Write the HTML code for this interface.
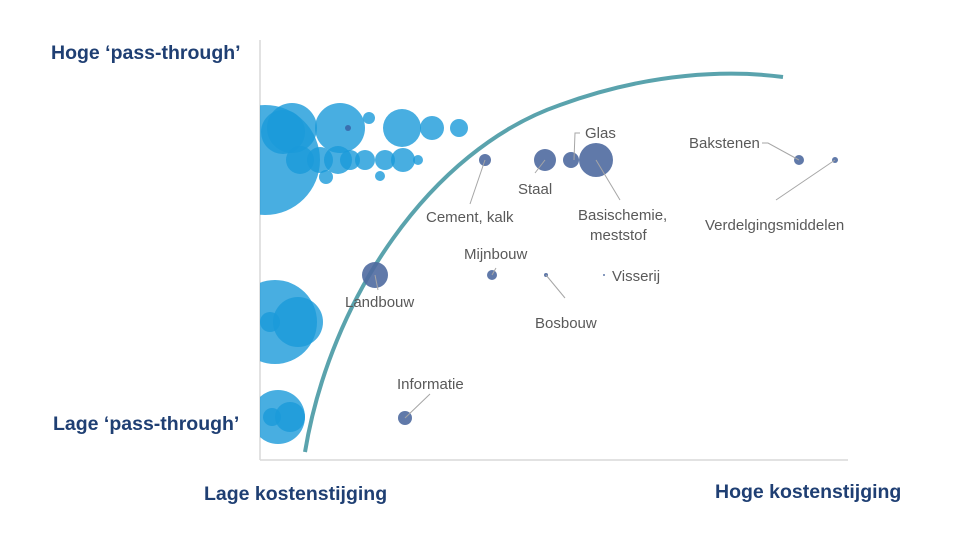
<!DOCTYPE html>
<html><head><meta charset="utf-8"><style>
html,body{margin:0;padding:0;background:#fff;}
svg{display:block;}
.l{font-family:"Liberation Sans",sans-serif;font-size:15px;fill:#595959;}
.a{font-family:"Liberation Sans",sans-serif;font-size:19.5px;font-weight:bold;fill:#1f3f73;}
</style></head><body>
<svg width="970" height="537" viewBox="0 0 970 537" xmlns="http://www.w3.org/2000/svg">
<defs><clipPath id="c"><rect x="260" y="0" width="700" height="537"/></clipPath></defs>
<line x1="260" y1="40" x2="260" y2="460" stroke="#d9d9d9" stroke-width="1.5"/>
<line x1="260" y1="460" x2="848" y2="460" stroke="#d9d9d9" stroke-width="1.5"/>
<g clip-path="url(#c)" fill="#1a9ad9" fill-opacity="0.8">
<circle cx="265" cy="160" r="55"/>
<circle cx="292" cy="128" r="25"/>
<circle cx="283" cy="132" r="22"/>
<circle cx="340" cy="128" r="25"/>
<circle cx="369" cy="118" r="6"/>
<circle cx="402" cy="128" r="19"/>
<circle cx="432" cy="128" r="12"/>
<circle cx="459" cy="128" r="9"/>
<circle cx="300" cy="160" r="14"/>
<circle cx="320" cy="160" r="13"/>
<circle cx="338" cy="160" r="14"/>
<circle cx="350" cy="160" r="10"/>
<circle cx="365" cy="160" r="10"/>
<circle cx="385" cy="160" r="10"/>
<circle cx="403" cy="160" r="12"/>
<circle cx="418" cy="160" r="5"/>
<circle cx="380" cy="176" r="5"/>
<circle cx="326" cy="177" r="7"/>
<circle cx="275" cy="322" r="42"/>
<circle cx="298" cy="322" r="25"/>
<circle cx="270" cy="322" r="10"/>
<circle cx="278" cy="417" r="27"/>
<circle cx="290" cy="417" r="15"/>
<circle cx="272" cy="417" r="9"/>
</g>
<circle cx="348" cy="128" r="3" fill="#3a6fb0"/>
<path d="M305,452 C330,300 430,150 560,105 C650,72 730,70 783,77" fill="none" stroke="#5aa3ad" stroke-width="4"/>
<g fill="#4f6aa0" fill-opacity="0.9">
<circle cx="375" cy="275" r="13"/>
<circle cx="485" cy="160" r="6"/>
<circle cx="545" cy="160" r="11"/>
<circle cx="571" cy="160" r="8"/>
<circle cx="596" cy="160" r="17"/>
<circle cx="799" cy="160" r="5"/>
<circle cx="835" cy="160" r="3"/>
<circle cx="492" cy="275" r="5"/>
<circle cx="546" cy="275" r="2"/>
<circle cx="604" cy="275" r="1"/>
<circle cx="405" cy="418" r="7"/>
</g>
<g stroke="#a6a6a6" stroke-width="1" fill="none">
<line x1="485" y1="160" x2="470" y2="204"/>
<line x1="545" y1="160" x2="535" y2="173"/>
<polyline points="574,160 575,133 580,133"/>
<line x1="596" y1="160" x2="620" y2="200"/>
<polyline points="762,143 768,143 799,160"/>
<line x1="835" y1="160" x2="776" y2="200"/>
<line x1="492" y1="275" x2="496" y2="268"/>
<line x1="546" y1="275" x2="565" y2="298"/>
<line x1="405" y1="418" x2="430" y2="394"/>
<line x1="375" y1="275" x2="378" y2="290"/>
</g>
<text class="l" x="426" y="222">Cement, kalk</text>
<text class="l" x="518" y="194">Staal</text>
<text class="l" x="585" y="138">Glas</text>
<text class="l" x="578" y="220">Basischemie,</text>
<text class="l" x="590" y="240">meststof</text>
<text class="l" x="689" y="148">Bakstenen</text>
<text class="l" x="705" y="230">Verdelgingsmiddelen</text>
<text class="l" x="464" y="259">Mijnbouw</text>
<text class="l" x="612" y="281">Visserij</text>
<text class="l" x="535" y="328">Bosbouw</text>
<text class="l" x="345" y="307">Landbouw</text>
<text class="l" x="397" y="389">Informatie</text>
<text class="a" x="51" y="59">Hoge ‘pass-through’</text>
<text class="a" x="53" y="430">Lage ‘pass-through’</text>
<text class="a" x="204" y="500">Lage kostenstijging</text>
<text class="a" x="715" y="498">Hoge kostenstijging</text>
</svg>
</body></html>
